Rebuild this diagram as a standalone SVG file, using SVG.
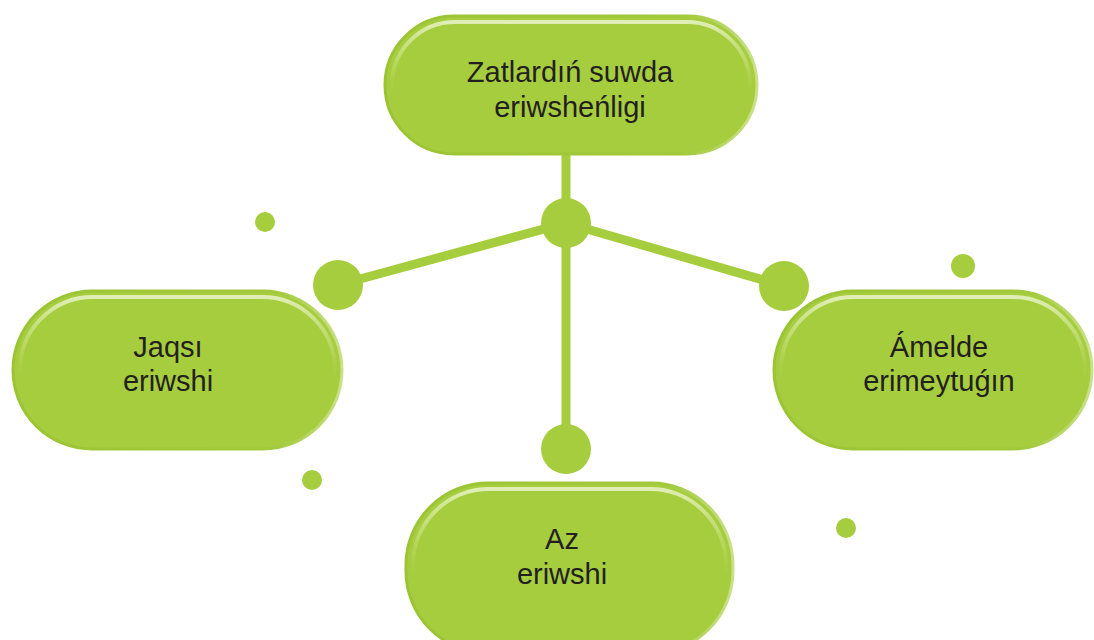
<svg xmlns="http://www.w3.org/2000/svg" width="1094" height="640" viewBox="0 0 1094 640">
  <defs>
    <linearGradient id="gloss" x1="0" y1="0" x2="0" y2="1">
      <stop offset="0" stop-color="#E6F2C4" stop-opacity="0.9"/>
      <stop offset="0.35" stop-color="#D4E897" stop-opacity="0.35"/>
      <stop offset="0.6" stop-color="#A6CD3E" stop-opacity="0"/>
    </linearGradient>
    <linearGradient id="rim" x1="0" y1="0" x2="1" y2="0">
      <stop offset="0" stop-color="#9BC434"/>
      <stop offset="0.8" stop-color="#A2C93B"/>
      <stop offset="1" stop-color="#C9E18A"/>
    </linearGradient>
    <style>
      .pill { fill: #A6CD3E; stroke: url(#rim); stroke-width: 3; }
      .shine { fill: none; stroke: url(#gloss); stroke-width: 4; }
      .dot { fill: #A6CD3E; }
      .link { stroke: #A6CD3E; stroke-width: 9; stroke-linecap: round; fill: none; }
      .label { font-family: "Liberation Sans", Arial, sans-serif; font-size: 29px; fill: #231F20; text-anchor: middle; }
    </style>
  </defs>

  <rect width="1094" height="640" fill="#FFFFFF"/>

  <!-- connectors -->
  <g id="connectors">
    <line class="link" x1="566" y1="150" x2="566" y2="449"/>
    <line class="link" x1="566" y1="223" x2="338" y2="285"/>
    <line class="link" x1="566" y1="223" x2="784" y2="286"/>
    <circle class="dot" cx="566" cy="223" r="25"/>
    <circle class="dot" cx="338" cy="285" r="25"/>
    <circle class="dot" cx="784" cy="286" r="25"/>
    <circle class="dot" cx="566" cy="449" r="25"/>
  </g>

  <!-- decorative dots -->
  <g id="accents">
    <circle class="dot" cx="265" cy="222" r="10"/>
    <circle class="dot" cx="963" cy="266" r="12"/>
    <circle class="dot" cx="312" cy="480" r="10"/>
    <circle class="dot" cx="846" cy="528" r="10"/>
  </g>

  <!-- top node -->
  <g id="node-root">
    <rect class="pill" x="385" y="16" width="372" height="138" rx="69"/>
    <rect class="shine" x="392" y="22" width="358" height="126" rx="63"/>
    <text class="label" x="570" y="82">Zatlardıń suwda</text>
    <text class="label" x="570" y="117">eriwsheńligi</text>
  </g>

  <!-- left node -->
  <g id="node-good">
    <rect class="pill" x="13" y="291" width="329" height="158" rx="79"/>
    <rect class="shine" x="20" y="297" width="315" height="146" rx="73"/>
    <text class="label" x="168" y="357">Jaqsı</text>
    <text class="label" x="168" y="391">eriwshi</text>
  </g>

  <!-- right node -->
  <g id="node-insoluble">
    <rect class="pill" x="774" y="291" width="318" height="158" rx="79"/>
    <rect class="shine" x="781" y="297" width="304" height="146" rx="73"/>
    <text class="label" x="939" y="357">Ámelde</text>
    <text class="label" x="939" y="391">erimeytuǵın</text>
  </g>

  <!-- bottom node -->
  <g id="node-low">
    <rect class="pill" x="406" y="483" width="327" height="170" rx="82"/>
    <rect class="shine" x="413" y="489" width="313" height="158" rx="76"/>
    <text class="label" x="562" y="549">Az</text>
    <text class="label" x="562" y="584">eriwshi</text>
  </g>
</svg>
